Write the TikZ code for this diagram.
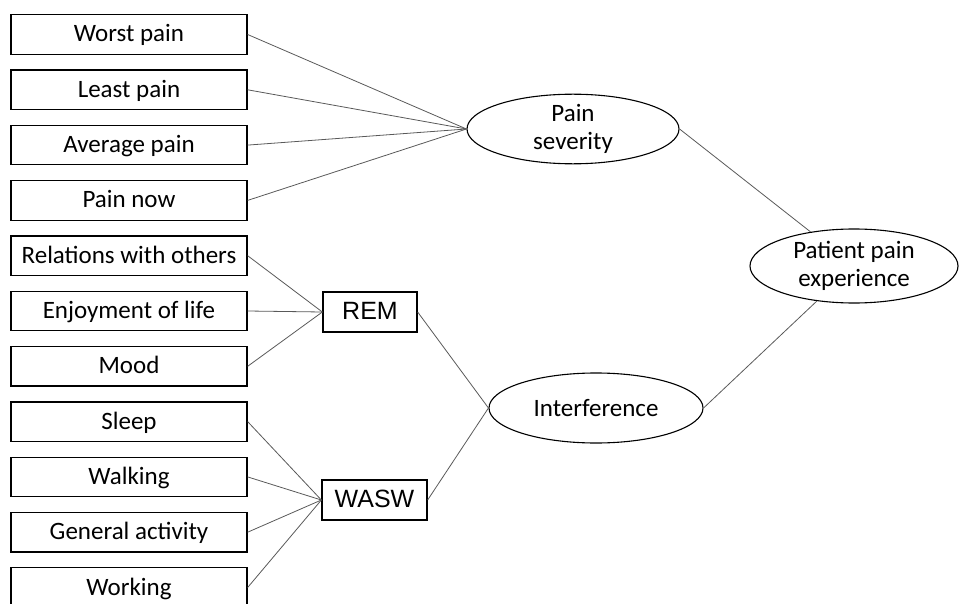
\documentclass[tikz,border=0pt]{standalone}
\usepackage{fontspec}
\setmainfont{Carlito}
\newfontfamily\arialfont{Liberation Sans}
\usetikzlibrary{positioning,shapes.geometric}

\begin{document}
\begin{tikzpicture}[
    x=1pt, y=-1pt,
    node distance=14.5pt,
    item/.style={rectangle, draw, line width=1.3pt, minimum width=236pt, minimum height=39.5pt, inner sep=0pt, text height=18pt, text depth=3pt, font=\fontsize{25}{29}\selectfont},
    parcel/.style={rectangle, draw, line width=1.3pt, minimum height=40pt, inner sep=0pt, text height=18pt, text depth=3pt, font=\arialfont\fontsize{25}{29}\selectfont},
    latent/.style={ellipse, draw, line width=1.1pt, inner sep=0pt, align=center, font=\fontsize{25}{28}\selectfont},
    link/.style={draw=black!65, line width=0.8pt}
]
    \useasboundingbox (0,0) rectangle (960,604);

    % --- Pain severity items ---
    \node[item] (worst) at (129,34.5) {Worst pain};
    \node[item, below=of worst] (least) {Least pain};
    \node[item, below=of least] (average) {Average pain};
    \node[item, below=of average] (now) {Pain now};

    % --- Interference items ---
    \node[item, below=of now] (relations) {Relations with others};
    \node[item, below=of relations] (enjoy) {Enjoyment of life};
    \node[item, below=of enjoy] (mood) {Mood};
    \node[item, below=of mood] (sleep) {Sleep};
    \node[item, below=of sleep] (walking) {Walking};
    \node[item, below=of walking] (general) {General activity};
    \node[item, below=of general] (working) {Working};

    % --- Parcels ---
    \node[parcel, minimum width=94pt] (rem) at (370,312) {REM};
    \node[parcel, minimum width=105pt] (wasw) at (374.5,500) {WASW};

    % --- Latent factors ---
    \node[latent, minimum width=212pt, minimum height=68pt] (severity) at (573,129) {Pain\\severity};
    \node[latent, minimum width=214pt, minimum height=70pt] (interf) at (596,408) {Interference};
    \node[latent, minimum width=208pt, minimum height=74pt] (patient) at (854,266) {Patient pain\\experience};

    % --- Links ---
    % severity items
    \draw[link] (worst.east) -- (severity.west);
    \draw[link] (least.east) -- (severity.west);
    \draw[link] (average.east) -- (severity.west);
    \draw[link] (now.east) -- (severity.west);

    % REM items
    \draw[link] (relations.east) -- (rem.west);
    \draw[link] (enjoy.east) -- (rem.west);
    \draw[link] (mood.east) -- (rem.west);

    % WASW items
    \draw[link] (sleep.east) -- (wasw.west);
    \draw[link] (walking.east) -- (wasw.west);
    \draw[link] (general.east) -- (wasw.west);
    \draw[link] (working.east) -- (wasw.west);

    % parcels -> interference
    \draw[link] (rem.east) -- (interf.west);
    \draw[link] (wasw.east) -- (interf.west);

    % factors -> patient experience
    \draw[link] (severity.east) -- (patient);
    \draw[link] (interf.east) -- (patient);

\end{tikzpicture}
\end{document}
